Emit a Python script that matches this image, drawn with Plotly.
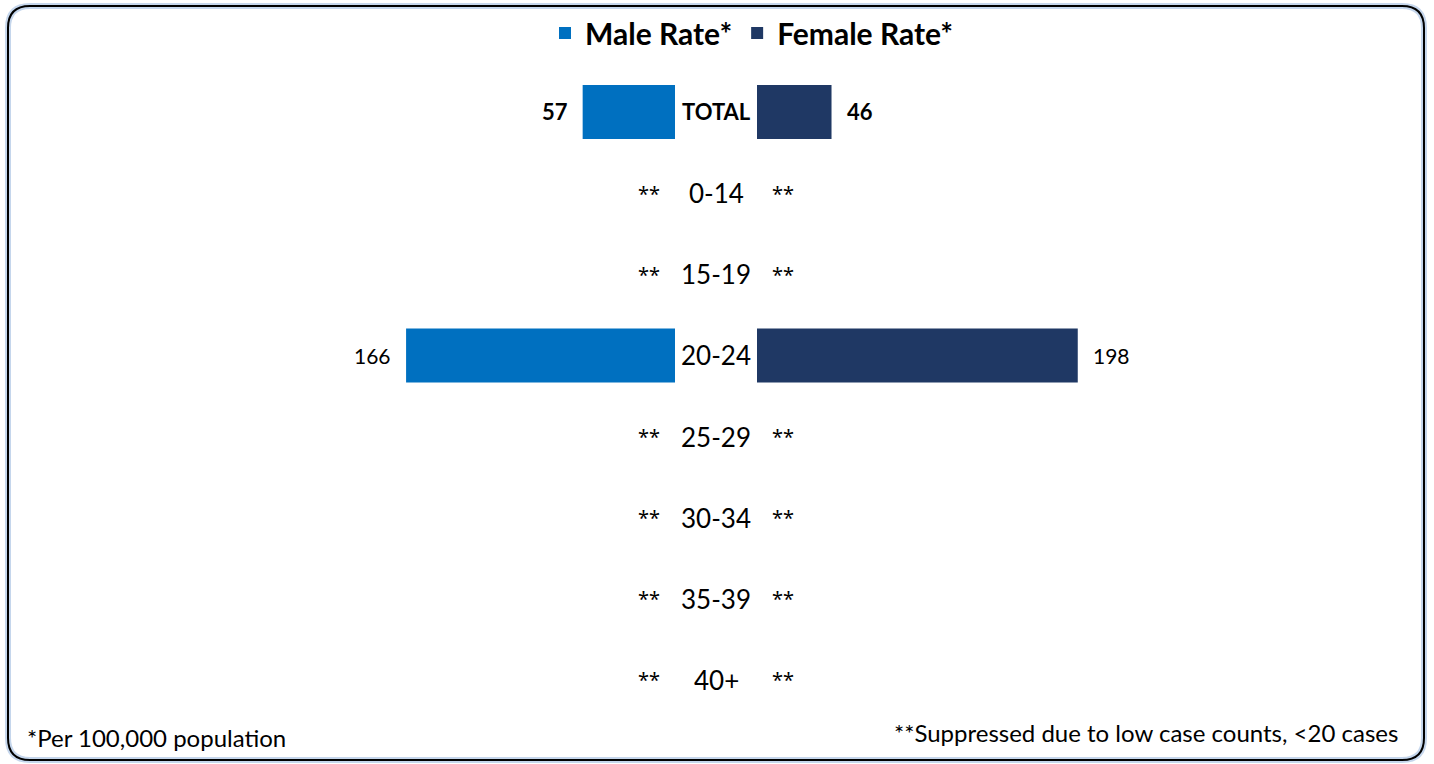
import plotly.graph_objects as go

# Rates per 100,000 population by age group (None = suppressed, <20 cases)
categories = ["TOTAL", "0-14", "15-19", "20-24", "25-29", "30-34", "35-39", "40+"]
male_rate = [57, None, None, 166, None, None, None, None]
female_rate = [46, None, None, 198, None, None, None, None]
suppressed_label = "**"

MALE_COLOR = "#0070C0"
FEMALE_COLOR = "#1F3864"
FONT = "Lato"
STAR_FONT = "Noto Sans"

W, H = 1434, 764
PX_PER_UNIT = 1.62
male_zero_px, female_zero_px = 675, 757

fig = go.Figure()
fig.add_trace(go.Bar(
    y=categories, x=male_rate, orientation="h", name="Male Rate*",
    marker=dict(color=MALE_COLOR, line=dict(width=0)),
    xaxis="x", yaxis="y", hoverinfo="skip",
))
fig.add_trace(go.Bar(
    y=categories, x=female_rate, orientation="h", name="Female Rate*",
    marker=dict(color=FEMALE_COLOR, line=dict(width=0)),
    xaxis="x2", yaxis="y", hoverinfo="skip",
))


def value_font(bold, suppressed):
    if suppressed:
        return dict(family=STAR_FONT, size=20, color="black")
    return dict(family=FONT, size=22 if bold else 21, color="black",
                weight="bold" if bold else "normal")


annotations = []
for cat, m, f in zip(categories, male_rate, female_rate):
    bold = cat == "TOTAL"
    annotations.append(dict(
        x=m if m is not None else 0, y=cat, xref="x", yref="y",
        text=str(m) if m is not None else suppressed_label,
        xanchor="right", yanchor="middle", xshift=-13, showarrow=False,
        font=value_font(bold, m is None),
    ))
    annotations.append(dict(
        x=f if f is not None else 0, y=cat, xref="x2", yref="y",
        text=str(f) if f is not None else suppressed_label,
        xanchor="left", yanchor="middle", xshift=13, showarrow=False,
        font=value_font(bold, f is None),
    ))
    # age group label in the centre gap
    annotations.append(dict(
        x=(male_zero_px + female_zero_px) / 2 / W, y=cat, xref="paper", yref="y",
        text=cat, xanchor="center", yanchor="middle", showarrow=False,
        font=dict(family=FONT, size=22 if bold else 26, color="black",
                  weight="bold" if bold else "normal"),
    ))

annotations.append(dict(
    x=25 / W, y=1 - 737 / H, xref="paper", yref="paper", text="*Per 100,000 population",
    xanchor="left", yanchor="middle", showarrow=False,
    font=dict(family=FONT, size=24, color="black"),
))
annotations.append(dict(
    x=1400 / W, y=1 - 732 / H, xref="paper", yref="paper",
    text="**Suppressed due to low case counts, <20 cases",
    xanchor="right", yanchor="middle", showarrow=False,
    font=dict(family=FONT, size=24, color="black"),
))


def rounded_rect(x0, y0, x1, y1, r):
    """SVG path (paper coords) for a rounded rectangle given in pixels."""
    def px(x):
        return x / W

    def py(y):
        return 1 - y / H

    return (
        f"M{px(x0 + r)},{py(y0)} L{px(x1 - r)},{py(y0)} "
        f"Q{px(x1)},{py(y0)} {px(x1)},{py(y0 + r)} "
        f"L{px(x1)},{py(y1 - r)} Q{px(x1)},{py(y1)} {px(x1 - r)},{py(y1)} "
        f"L{px(x0 + r)},{py(y1)} Q{px(x0)},{py(y1)} {px(x0)},{py(y1 - r)} "
        f"L{px(x0)},{py(y0 + r)} Q{px(x0)},{py(y0)} {px(x0 + r)},{py(y0)} Z"
    )


frame = rounded_rect(8, 6, 1424, 760, 22)
shapes = [
    dict(type="path", path=frame, xref="paper", yref="paper",
         line=dict(color="rgba(150,180,220,0.55)", width=6), layer="below"),
    dict(type="path", path=frame, xref="paper", yref="paper",
         line=dict(color="black", width=2), layer="above"),
]

row_px = (680 - 112) / (len(categories) - 1)
y_top = 112 - row_px / 2
y_bot = 680 + row_px / 2

fig.update_layout(
    width=W, height=H,
    margin=dict(l=0, r=0, t=0, b=0),
    paper_bgcolor="white", plot_bgcolor="white",
    barmode="overlay", bargap=0.335,
    showlegend=True,
    legend=dict(
        orientation="h", x=752 / W, y=1 - 33 / H, xanchor="center", yanchor="middle",
        font=dict(family=FONT, size=30, color="black", weight="bold"),
        itemclick=False, itemdoubleclick=False, traceorder="normal",
        bgcolor="rgba(0,0,0,0)",
    ),
    xaxis=dict(
        domain=[0, male_zero_px / W], range=[male_zero_px / PX_PER_UNIT, 0],
        visible=False, fixedrange=True,
    ),
    xaxis2=dict(
        domain=[female_zero_px / W, 1], range=[0, (W - female_zero_px) / PX_PER_UNIT],
        visible=False, fixedrange=True, anchor="y",
    ),
    yaxis=dict(
        domain=[1 - y_bot / H, 1 - y_top / H],
        type="category", categoryorder="array", categoryarray=categories,
        range=[len(categories) - 0.5, -0.5],
        visible=False, fixedrange=True,
    ),
    annotations=annotations,
    shapes=shapes,
)

fig.write_html("out.html")
